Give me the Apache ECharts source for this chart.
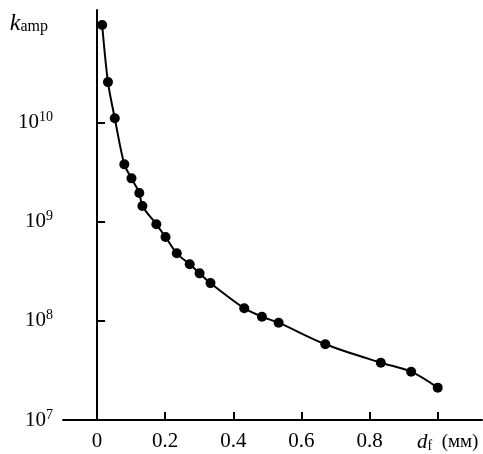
<!DOCTYPE html>
<html>
<head>
<meta charset="utf-8">
<script src="https://cdn.jsdelivr.net/npm/echarts@6/dist/echarts.min.js"></script>
<style>
html,body{margin:0;padding:0;background:#fff;}
#chart{width:483px;height:454px;}
</style>
</head>
<body>
<div id="chart"></div>
<script>
// Data
const dfValues = [0.015, 0.032, 0.052, 0.080, 0.101, 0.124, 0.133, 0.174, 0.201, 0.234, 0.272, 0.301, 0.333, 0.432, 0.484, 0.533, 0.670, 0.833, 0.922, 1.000];
const kampValues = [9.6e10, 2.55e10, 1.10e10, 3.78e9, 2.73e9, 1.94e9, 1.44e9, 9.4e8, 7.0e8, 4.79e8, 3.71e8, 3.01e8, 2.40e8, 1.34e8, 1.10e8, 9.57e7, 5.80e7, 3.78e7, 3.07e7, 2.12e7];

const xTickValues = [0, 0.2, 0.4, 0.6, 0.8, 1.0];
const xTickLabels = ['0', '0.2', '0.4', '0.6', '0.8', '{it|d}{sub|f}{n|  (мм)}'];
const yTickValues = [1e7, 1e8, 1e9, 1e10, 1e11];
const yTickLabels = ['{b|10}{sup|7}', '{b|10}{sup|8}', '{b|10}{sup|9}', '{b|10}{sup|10}', '{it|k}{sub2|amp}'];

const FONT = '"Liberation Serif", "DejaVu Serif", serif';

const chart = echarts.init(document.getElementById('chart'), null, {renderer: 'canvas'});
const data = dfValues.map((x, i) => [x, kampValues[i]]);

function findLabel(values, labels, v) {
  for (let i = 0; i < values.length; i++) {
    if (Math.abs(values[i] - v) < 1e-9 * Math.max(1, Math.abs(values[i]))) return labels[i];
  }
  return '';
}

chart.setOption({
  animation: false,
  backgroundColor: '#fff',
  grid: {left: 63, right: 1, top: 10, bottom: 34, containLabel: false},
  xAxis: {
    type: 'value',
    min: -0.1,
    max: 1.13,
    axisLine: {show: true, lineStyle: {color: '#000', width: 2}},
    axisTick: {show: true, inside: true, length: 8, lineStyle: {color: '#000', width: 2}, customValues: xTickValues},
    splitLine: {show: false},
    axisLabel: {
      customValues: xTickValues,
      margin: 11,
      color: '#000',
      fontFamily: FONT,
      fontSize: 21,
      formatter: v => findLabel(xTickValues, xTickLabels, v),
      rich: {
        it: {fontFamily: FONT, fontStyle: 'italic', fontSize: 21, color: '#000', padding: [0, 0, 0, 20]},
        sub: {fontFamily: FONT, fontSize: 14, color: '#000', padding: [8, 0, 0, 0]},
        n: {fontFamily: FONT, fontSize: 19, color: '#000'}
      }
    }
  },
  yAxis: {
    type: 'log',
    logBase: 10,
    min: 1e7,
    max: 1.36e11,
    axisLine: {show: true, lineStyle: {color: '#000', width: 2}},
    axisTick: {show: true, inside: true, length: 8, lineStyle: {color: '#000', width: 2}, customValues: yTickValues},
    minorTick: {show: false},
    splitLine: {show: false},
    axisLabel: {
      customValues: yTickValues,
      margin: 10,
      color: '#000',
      fontFamily: FONT,
      fontSize: 21,
      formatter: v => findLabel(yTickValues, yTickLabels, v),
      rich: {
        b: {fontFamily: FONT, fontSize: 21, color: '#000'},
        sup: {fontFamily: FONT, fontSize: 14, color: '#000', padding: [0, 0, 10, 0]},
        it: {fontFamily: FONT, fontStyle: 'italic', fontSize: 24, color: '#000'},
        sub2: {fontFamily: FONT, fontSize: 16, color: '#000', padding: [8, 5, 0, 0]}
      }
    }
  },
  series: [{
    type: 'line',
    data: data,
    smooth: 0.3,
    symbol: 'circle',
    symbolSize: 10,
    lineStyle: {color: '#000', width: 2},
    itemStyle: {color: '#000'}
  }]
});
</script>
</body>
</html>
